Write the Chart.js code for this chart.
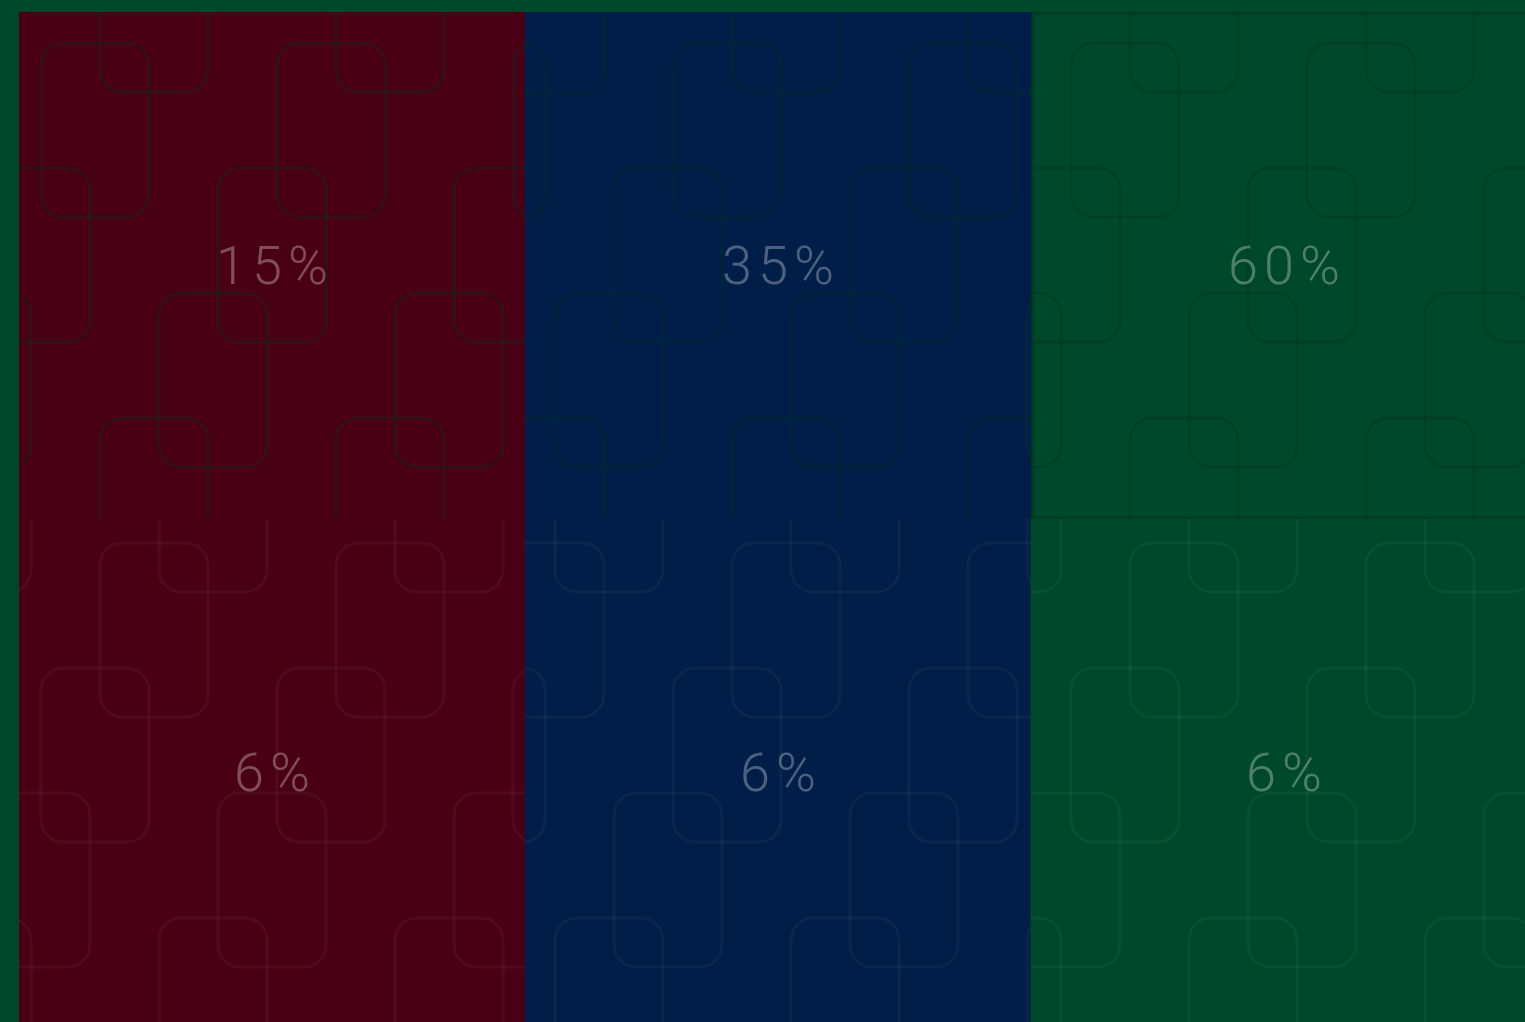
<!DOCTYPE html>
<html>
<head>
<meta charset="utf-8">
<script src="https://cdn.jsdelivr.net/npm/chart.js"></script>
<style>
    html, body { margin: 0; padding: 0; background: #00482a; overflow: hidden; }
    #wrap { position: absolute; left: 0; top: 0; width: 1537px; height: 1026px; }
</style>
</head>
<body>
<div id="wrap"><canvas id="chart"></canvas></div>
<script>
// columns
const categories = ['A', 'B', 'C'];
// segment heights (both tiers take half of each column)
const upperShare = [1, 1, 1];
const lowerShare = [1, 1, 1];
// printed rates
const upperRate = [15, 35, 60];
const lowerRate = [6, 6, 6];

const columnColors = ['#4a0014', '#001e48', '#00482a'];
const patternShiftX = [0, 632, 1030];

// tile of rounded rectangles, base colour baked in
function makeTile(base, line) {
    const w = 236, h = 500;
    const c = document.createElement('canvas');
    c.width = w; c.height = h;
    const g = c.getContext('2d');
    g.fillStyle = base;
    g.fillRect(0, 0, w, h);
    g.strokeStyle = line;
    g.lineWidth = 3;
    for (let k = 0; k < 4; k++) {
        const x0 = 100 - 59 * k, y0 = -82 + 125 * k;
        for (const dx of [-w, 0, w]) {
            for (const dy of [-h, 0, h]) {
                g.beginPath();
                g.roundRect(x0 + dx, y0 + dy, 108, 174, 22);
                g.stroke();
            }
        }
    }
    return c;
}

const ctx = document.getElementById('chart').getContext('2d');

function makePattern(i, upper) {
    const tile = makeTile(columnColors[i], upper ? 'rgba(0,50,38,0.32)' : 'rgba(255,255,255,0.04)');
    const p = ctx.createPattern(tile, 'repeat');
    p.setTransform(new DOMMatrix([1, 0, 0, 1, patternShiftX[i], upper ? 0 : 125]));
    return p;
}

const upperFill = categories.map((c, i) => makePattern(i, true));
const lowerFill = categories.map((c, i) => makePattern(i, false));

const segmentLabels = {
    id: 'segmentLabels',
    afterDatasetsDraw(chart) {
        const c = chart.ctx;
        const rates = [lowerRate, upperRate];
        c.save();
        c.font = '300 54px Roboto, "Liberation Sans", sans-serif';
        c.letterSpacing = '6px';
        c.fillStyle = 'rgba(255,255,255,0.3)';
        c.textAlign = 'left';
        c.textBaseline = 'alphabetic';
        chart.data.datasets.forEach((ds, di) => {
            chart.getDatasetMeta(di).data.forEach((bar, i) => {
                const txt = rates[di][i] + '%';
                const w = c.measureText(txt).width - 6;
                const cy = (bar.y + bar.base) / 2;
                c.fillText(txt, bar.x - w / 2, cy + 18);
            });
        });
        c.restore();
    }
};

new Chart(ctx, {
    type: 'bar',
    data: {
        labels: categories,
        datasets: [
            {
                data: lowerShare,
                backgroundColor: lowerFill,
                borderWidth: 0,
                barPercentage: 1,
                categoryPercentage: 1
            },
            {
                data: upperShare,
                backgroundColor: upperFill,
                borderColor: 'rgba(0,30,15,0.3)',
                borderWidth: [0, 0, 3],
                borderSkipped: false,
                barPercentage: 1,
                categoryPercentage: 1
            }
        ]
    },
    options: {
        responsive: true,
        maintainAspectRatio: false,
        animation: false,
        layout: { padding: { left: 19, top: 12, right: 0, bottom: 0 } },
        scales: {
            x: { stacked: true, display: false },
            y: { stacked: true, display: false, min: 0, max: 2 }
        },
        plugins: {
            legend: { display: false },
            tooltip: { enabled: false }
        }
    },
    plugins: [segmentLabels]
});
</script>
</body>
</html>
